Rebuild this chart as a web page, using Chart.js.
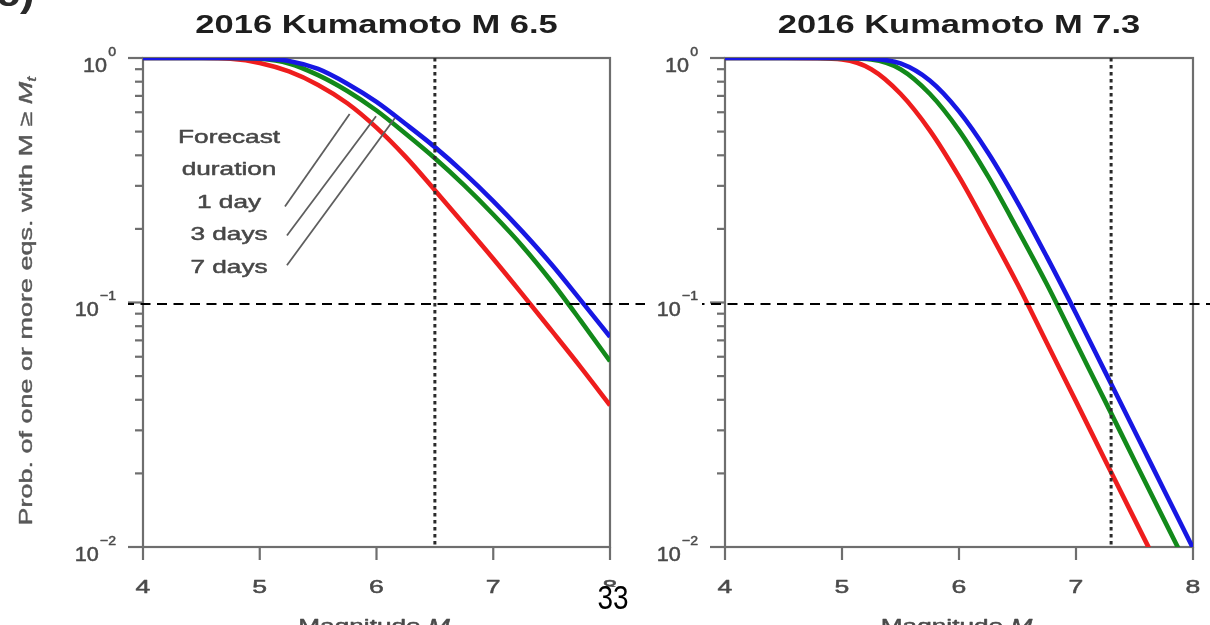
<!DOCTYPE html>
<html>
<head>
<meta charset="utf-8">
<script src="https://cdn.jsdelivr.net/npm/chart.js@4.4.1/dist/chart.umd.min.js"></script>
<style>
  html, body { margin: 0; padding: 0; background: #ffffff; }
  #wrap { position: relative; width: 1210px; height: 625px; overflow: hidden; background: #ffffff; }
  #wrap canvas { position: absolute; left: 0; top: 0; }
</style>
</head>
<body>
<div id="wrap">
  <canvas id="m65" width="1210" height="625"></canvas>
  <canvas id="m73" width="1210" height="625"></canvas>
</div>
<script>
// Target magnitude M_t sampled every 0.25
const magnitudes = [4, 4.25, 4.5, 4.75, 5, 5.25, 5.5, 5.75, 6, 6.25, 6.5, 6.75, 7, 7.25, 7.5, 7.75, 8];

// Probability of one or more earthquakes with M >= M_t — 2016 Kumamoto M 6.5 foreshock
const m65_7days = [1, 1, 1, 1, 0.995, 0.973, 0.902, 0.785, 0.661, 0.537, 0.432, 0.339, 0.26, 0.195, 0.143, 0.102, 0.0724];
const m65_3days = [1, 1, 1, 1, 0.993, 0.95, 0.851, 0.733, 0.61, 0.49, 0.389, 0.302, 0.229, 0.17, 0.1216, 0.0841, 0.0575];
const m65_1day  = [1, 1, 1, 0.993, 0.955, 0.881, 0.776, 0.653, 0.519, 0.394, 0.288, 0.209, 0.151, 0.108, 0.0767, 0.0543, 0.038];

// Same for the 2016 Kumamoto M 7.3 mainshock
const m73_7days = [1, 1, 1, 1, 1, 0.993, 0.95, 0.809, 0.605, 0.409, 0.257, 0.154, 0.0902, 0.0519, 0.0299, 0.0172, 0.0099];
const m73_3days = [1, 1, 1, 1, 0.998, 0.986, 0.9, 0.714, 0.506, 0.327, 0.199, 0.119, 0.0684, 0.0394, 0.0226, 0.013, 0.0075];
const m73_1day  = [1, 1, 1, 0.998, 0.986, 0.9, 0.714, 0.506, 0.327, 0.199, 0.119, 0.0684, 0.0394, 0.0226, 0.013, 0.0075, 0.0043];

// Axis ticks
const xTickValues = [4, 5, 6, 7, 8];
const yDecades = [0.01, 0.1, 1];
const yDecadeExponents = ['\u22122', '\u22121', '0'];
const thresholdProb = 0.1;

// Forecast-duration key (left panel)
const durationLabels = ['Forecast', 'duration', '1 day', '3 days', '7 days'];
const durationLeaders = [
  { from: [5.216, 0.247], to: [5.77, 0.59] },
  { from: [5.233, 0.188], to: [5.996, 0.578] },
  { from: [5.233, 0.142], to: [6.158, 0.568] }
];

const FONT = '"Liberation Sans", Arial, Helvetica, sans-serif';
const BLUE = '#1717e3', GREEN = '#12891a', RED = '#ee1d1d';
const AXIS = '#6e6e6e';
const TEXT_GREY = '#4a4a4a';

// Draw a run of text pieces (font / vertical offset each) with a horizontal stretch;
// an optional thin outline gives the regular-weight text a little more body
function drawRuns(ctx, runs, x, y, align, sx, color, outline) {
  ctx.save();
  ctx.fillStyle = color;
  ctx.strokeStyle = color;
  ctx.lineWidth = outline || 0;
  ctx.lineJoin = 'round';
  ctx.textBaseline = 'alphabetic';
  ctx.textAlign = 'left';
  const widths = runs.map(r => { ctx.font = r.font; return ctx.measureText(r.text).width; });
  const total = widths.reduce((a, b) => a + b, 0) * sx;
  const start = align === 'center' ? x - total / 2 : (align === 'right' ? x - total : x);
  ctx.translate(start, y);
  ctx.scale(sx, 1);
  let cx = 0;
  runs.forEach((r, i) => {
    ctx.font = r.font;
    ctx.fillText(r.text, cx, r.dy || 0);
    if (outline) ctx.strokeText(r.text, cx, r.dy || 0);
    cx += widths[i];
  });
  ctx.restore();
}

function strokeLine(ctx, x1, y1, x2, y2) {
  ctx.beginPath();
  ctx.moveTo(x1, y1);
  ctx.lineTo(x2, y2);
  ctx.stroke();
}

function panelDecor(cfg) {
  return {
    id: 'panelDecor',
    beforeDatasetsDraw(chart) {
      const { ctx, chartArea: a, scales: { x, y } } = chart;
      ctx.save();
      ctx.strokeStyle = AXIS;
      ctx.lineWidth = 2.2;
      ctx.strokeRect(a.left, a.top, a.right - a.left, a.bottom - a.top);
      // outward ticks on the magnitude axis
      xTickValues.forEach(v => {
        const px = x.getPixelForValue(v);
        strokeLine(ctx, px, a.bottom, px, a.bottom + 13);
      });
      // major and minor ticks on the probability axis
      yDecades.forEach(d => {
        const py = y.getPixelForValue(d);
        strokeLine(ctx, a.left - 15, py, a.left, py);
        if (d < 1) {
          for (let k = 2; k <= 9; k++) {
            const pm = y.getPixelForValue(d * k);
            strokeLine(ctx, a.left - 8, pm, a.left, pm);
          }
        }
      });
      ctx.restore();
    },
    afterDatasetsDraw(chart) {
      const { ctx, chartArea: a, scales: { x, y } } = chart;
      ctx.save();
      // mainshock magnitude (dotted)
      const mx = x.getPixelForValue(cfg.mainshock);
      ctx.strokeStyle = '#2a2a2a';
      ctx.lineWidth = 3;
      ctx.setLineDash([3.5, 3.5]);
      strokeLine(ctx, mx, a.top, mx, a.bottom);
      // 10 % probability level (dashed)
      const ty = y.getPixelForValue(thresholdProb) + 1.5;
      ctx.strokeStyle = '#000000';
      ctx.lineWidth = 2;
      ctx.setLineDash([10, 6.5]);
      ctx.lineDashOffset = -cfg.dashFrom;
      strokeLine(ctx, cfg.dashFrom, ty, cfg.dashTo, ty);
      ctx.setLineDash([]);

      if (cfg.durationKey) {
        ctx.strokeStyle = '#5e5e5e';
        ctx.lineWidth = 1.8;
        durationLeaders.forEach(l => {
          strokeLine(ctx,
            x.getPixelForValue(l.from[0]), y.getPixelForValue(l.from[1]),
            x.getPixelForValue(l.to[0]), y.getPixelForValue(l.to[1]));
        });
        const cx = x.getPixelForValue(4.737);
        const top = y.getPixelForValue(0.479);
        durationLabels.forEach((t, i) => {
          drawRuns(ctx, [{ text: t, font: '19px ' + FONT }], cx, top + 6.8 + i * 32.5, 'center', 1.38, '#474747', 0.5);
        });
      }
      ctx.restore();
    },
    afterDraw(chart) {
      const { ctx, chartArea: a, scales: { x, y } } = chart;
      const midX = (a.left + a.right) / 2;
      // panel title
      drawRuns(ctx, [{ text: cfg.title, font: 'bold 25px ' + FONT }], midX, 33, 'center', 1.38, '#1e1e1e');
      // magnitude tick labels
      xTickValues.forEach(v => {
        drawRuns(ctx, [{ text: String(v), font: '19px ' + FONT }], x.getPixelForValue(v), 593, 'center', 1.4, TEXT_GREY, 0.5);
      });
      // probability tick labels 10^n
      yDecades.forEach((d, i) => {
        const py = y.getPixelForValue(d);
        drawRuns(ctx, [
          { text: '10', font: '20px ' + FONT },
          { text: ' ', font: '4px ' + FONT },
          { text: yDecadeExponents[i], font: '13px ' + FONT, dy: -16 }
        ], a.left - 27, py + 13.5, 'right', 1.08, TEXT_GREY, 0.5);
      });
      // magnitude axis title
      drawRuns(ctx, [
        { text: 'Magnitude ', font: '19px ' + FONT },
        { text: 'M', font: 'italic 19px ' + FONT },
        { text: 't', font: 'italic 13px ' + FONT, dy: 4 }
      ], midX, 632, 'center', 1.38, TEXT_GREY, 0.5);

      if (cfg.yTitle) {
        ctx.save();
        ctx.translate(25, 301);
        ctx.rotate(-Math.PI / 2);
        drawRuns(ctx, [
          { text: 'Prob. of one or more eqs. with M \u2265 ', font: '19px ' + FONT },
          { text: 'M', font: 'italic 19px ' + FONT },
          { text: 't', font: 'italic 13px ' + FONT, dy: 4 }
        ], 0, 7, 'center', 1.42, '#585858', 0.4);
        ctx.restore();
        // panel letter
        drawRuns(ctx, [{ text: 'c)', font: 'bold 36px ' + FONT }], -4, 6, 'left', 1.2, '#2a2a2a');
      }
      if (cfg.pageNumber) {
        ctx.save();
        ctx.fillStyle = '#ffffff';
        ctx.fillRect(596, 587, 34, 38);
        ctx.restore();
        drawRuns(ctx, [{ text: '33', font: '34px ' + FONT }], 613, 609, 'center', 0.82, '#000000');
      }
    }
  };
}

function makePanel(canvasId, cfg, series) {
  const ctx = document.getElementById(canvasId).getContext('2d');
  return new Chart(ctx, {
    type: 'line',
    data: {
      datasets: series.map(s => ({
        label: s.label,
        data: magnitudes.map((m, i) => ({ x: m, y: s.values[i] })),
        borderColor: s.color,
        backgroundColor: s.color,
        borderWidth: 4.6,
        pointRadius: 0,
        fill: false,
        cubicInterpolationMode: 'monotone'
      }))
    },
    options: {
      responsive: false,
      animation: false,
      devicePixelRatio: 1,
      events: [],
      layout: { padding: { left: cfg.left, right: 1210 - cfg.right, top: 58, bottom: 78 } },
      plugins: { legend: { display: false }, tooltip: { enabled: false }, title: { display: false } },
      scales: {
        x: { type: 'linear', min: 4, max: 8, display: false },
        y: { type: 'logarithmic', min: 0.01, max: 1, display: false }
      }
    },
    plugins: [panelDecor(cfg)]
  });
}

makePanel('m65', {
  title: '2016 Kumamoto M 6.5', mainshock: 6.5, left: 143, right: 610,
  dashFrom: 128, dashTo: 645, yTitle: true, durationKey: true, pageNumber: false
}, [
  { label: '7 days', values: m65_7days, color: BLUE },
  { label: '3 days', values: m65_3days, color: GREEN },
  { label: '1 day', values: m65_1day, color: RED }
]);

makePanel('m73', {
  title: '2016 Kumamoto M 7.3', mainshock: 7.3, left: 725, right: 1193,
  dashFrom: 702, dashTo: 1210, yTitle: false, durationKey: false, pageNumber: true
}, [
  { label: '7 days', values: m73_7days, color: BLUE },
  { label: '3 days', values: m73_3days, color: GREEN },
  { label: '1 day', values: m73_1day, color: RED }
]);
</script>
</body>
</html>
